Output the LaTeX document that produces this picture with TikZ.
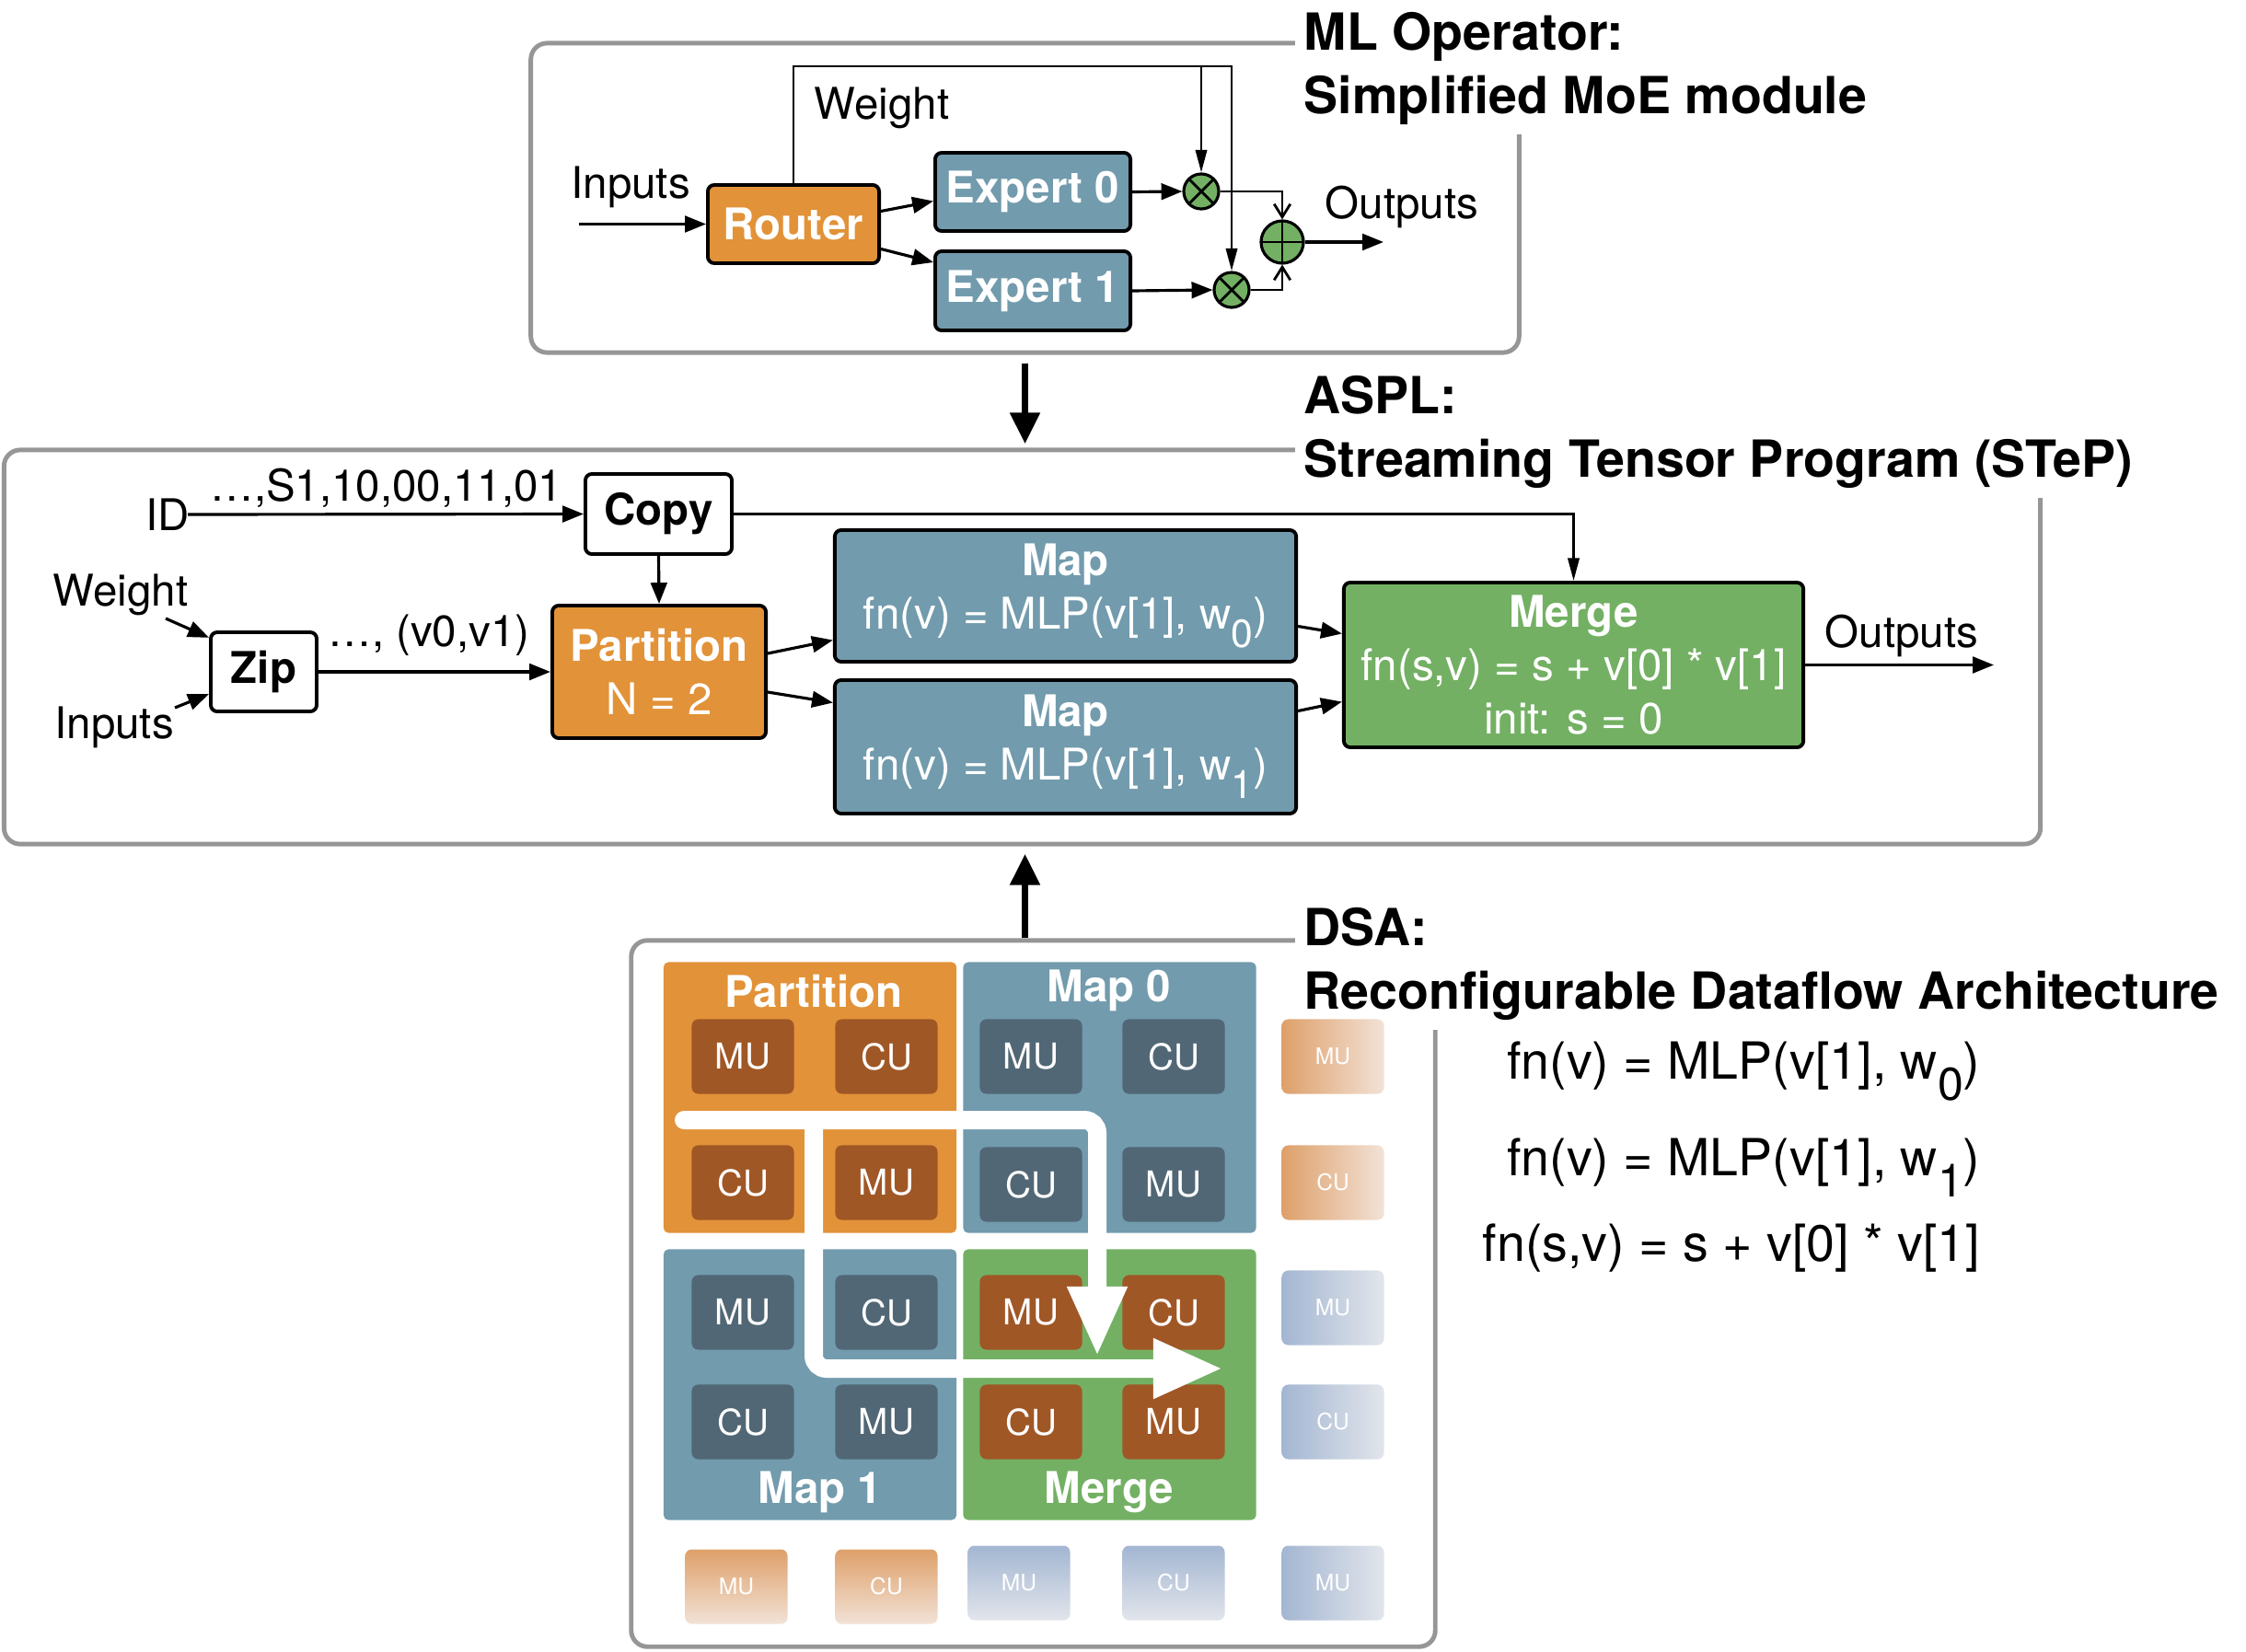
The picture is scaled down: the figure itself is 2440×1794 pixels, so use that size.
\documentclass[tikz,border=0pt]{standalone}
\usepackage{fontspec}
\setmainfont{TeX Gyre Heros}
\usetikzlibrary{arrows.meta,calc}

\definecolor{opOrange}{RGB}{226,146,56}
\definecolor{opBlue}{RGB}{114,155,173}
\definecolor{opGreen}{RGB}{115,176,99}
\definecolor{unitBrown}{RGB}{160,87,38}
\definecolor{unitSlate}{RGB}{81,103,117}
\definecolor{frameGray}{RGB}{150,150,150}
\definecolor{fadeOrange}{RGB}{222,160,106}
\definecolor{fadeOrangeL}{RGB}{242,226,214}
\definecolor{fadeBlue}{RGB}{163,182,210}
\definecolor{fadeBlueL}{RGB}{226,229,235}

\newcommand{\bodysize}{\fontsize{13.5}{16.5}\selectfont}
\newcommand{\titlesize}{\fontsize{15.8}{19.6}\selectfont}
\newcommand{\lsub}[1]{\raisebox{-0.42em}{\scalebox{0.9}{#1}}}

\begin{document}
\begin{tikzpicture}[x=0.01cm, y=-0.01cm,
		grp/.style = {draw=frameGray, line width=1.4pt, rounded corners=5pt, inner sep=0},
		ttl/.style = {fill=white, anchor=north west, align=left, inner sep=0.1cm, font=\titlesize\bfseries},
		lbl/.style = {font=\bodysize, inner sep=0},
		opbox/.style = {draw=black, line width=1.1pt, rounded corners=2pt, text=white, align=center, font=\bodysize, inner sep=0},
		orng/.style = {opbox, fill=opOrange},
		blu/.style = {opbox, fill=opBlue},
		grn/.style = {opbox, fill=opGreen},
		wht/.style = {opbox, fill=white, text=black, font=\bodysize\bfseries},
		otim/.style = {circle, draw, line width=0.9pt, fill=opGreen, minimum size=0.38cm, inner sep=0,
			path picture={\draw[line width=0.8pt] (path picture bounding box.north west) -- (path picture bounding box.south east)
				(path picture bounding box.north east) -- (path picture bounding box.south west);}},
		opl/.style = {circle, draw, line width=0.9pt, fill=opGreen, minimum size=0.46cm, inner sep=0,
			path picture={\draw[line width=0.8pt] (path picture bounding box.north) -- (path picture bounding box.south)
				(path picture bounding box.west) -- (path picture bounding box.east);}},
		reg/.style = {rounded corners=1.5pt, inner sep=0, minimum width=3.18cm, minimum height=2.94cm},
		rlbl/.style = {text=white, font=\bodysize\bfseries, inner sep=0},
		unit/.style = {rounded corners=2pt, minimum width=1.11cm, minimum height=0.81cm, inner sep=0, text=white, font=\fontsize{11}{13}\selectfont},
		ub/.style = {unit, fill=unitBrown},
		us/.style = {unit, fill=unitSlate},
		fade/.style = {unit, font=\fontsize{7}{8}\selectfont},
		fol/.style = {fade, left color=fadeOrange, right color=fadeOrangeL},
		fot/.style = {fade, top color=fadeOrange, bottom color=fadeOrangeL},
		fbl/.style = {fade, left color=fadeBlue, right color=fadeBlueL},
		fbt/.style = {fade, top color=fadeBlue, bottom color=fadeBlueL},
		ar/.style = {-{Triangle[length=6.5pt,width=5pt]}, line width=0.9pt},
		ta/.style = {-{Triangle[length=7pt,width=3.5pt]}, line width=0.8pt},
		tb/.style = {-{Straight Barb[length=4pt,width=5pt]}, line width=0.8pt},
		big/.style = {-{Triangle[length=0.34cm,width=0.31cm]}, line width=2.2pt},
		flow/.style = {-{Triangle[length=0.76cm,width=0.6cm]}, draw=white, line width=0.2cm, rounded corners=4pt, line cap=round}
		]
		\useasboundingbox (0,0) rectangle (2440,1794);

		%Frames
		\node[grp, minimum width=10.73cm, minimum height=3.36cm]	(fOp)	at	(1113.5, 215)	{};
		\node[grp, minimum width=22.11cm, minimum height=4.28cm]	(fAspl)	at	(1110.5, 703)	{};
		\node[grp, minimum width=8.73cm, minimum height=7.67cm]	(fDsa)	at	(1122.5, 1405.5)	{};
		\node[ttl]	(tOp)	at	(1406, 3)	{ML Operator:\\Simplified MoE module};
		\node[ttl]	(tAspl)	at	(1406, 398)	{ASPL:\\Streaming Tensor Program (STeP)};
		\node[ttl]	(tDsa)	at	(1406, 976)	{DSA:\\Reconfigurable Dataflow Architecture};

		%ML operator
		\node[orng, minimum width=1.86cm, minimum height=0.85cm]	(router)	at	(862, 243.5)	{\bfseries Router};
		\node[blu, minimum width=2.12cm, minimum height=0.85cm]	(exp0)	at	(1122, 208.5)	{\bfseries Expert 0};
		\node[blu, minimum width=2.12cm, minimum height=0.86cm]	(exp1)	at	(1122, 316)	{\bfseries Expert 1};
		\node[otim]	(mul0)	at	(1305, 208)	{};
		\node[otim]	(mul1)	at	(1338, 315)	{};
		\node[opl]	(add)	at	(1393, 263)	{};
		\node[lbl]	(lIn)	at	(685, 203)	{Inputs};
		\node[lbl]	(lW)	at	(958, 117)	{Weight};
		\node[lbl]	(lOut)	at	(1523, 225)	{Outputs};
		\coordinate	(inA)	at	(629, 243.5);
		\coordinate	(wt)	at	(1338, 72);
		\coordinate	(outA)	at	(1503, 263);

		\draw[ar]	(inA)	--	(router.west);
		\draw[ar]	($(router.east)+(0,-14)$)	--	($(exp0.west)+(0,10)$);
		\draw[ar]	($(router.east)+(0,27)$)	--	($(exp1.west)+(0,-31)$);
		\draw[ta]	(router.north)	|-	(wt)	--	(mul1.north);
		\draw[ta]	(mul0.north |- wt)	--	(mul0.north);
		\draw[ar]	(exp0.east)	--	(mul0.west);
		\draw[ar]	(exp1.east)	--	(mul1.west);
		\draw[tb]	(mul0.east)	-|	(add.north);
		\draw[tb]	(mul1.east)	-|	(add.south);
		\draw[ar]	(add.east)	--	(outA);

		%ASPL
		\node[wht, minimum width=1.59cm, minimum height=0.87cm]	(copy)	at	(715.5, 558.5)	{Copy};
		\node[wht, minimum width=1.15cm, minimum height=0.86cm]	(zip)	at	(286.5, 730)	{Zip};
		\node[orng, minimum width=2.32cm, minimum height=1.44cm]	(part)	at	(716, 730)	{\textbf{Partition}\\N = 2};
		\node[blu, minimum width=5.01cm, minimum height=1.43cm]	(map0)	at	(1157.5, 647.5)	{\textbf{Map}\\fn(v) = MLP(v[1], w\lsub{0})};
		\node[blu, minimum width=5.01cm, minimum height=1.45cm]	(map1)	at	(1157.5, 811.5)	{\textbf{Map}\\fn(v) = MLP(v[1], w\lsub{1})};
		\node[grn, minimum width=4.99cm, minimum height=1.79cm]	(merge)	at	(1709.5, 722.5)	{\textbf{Merge}\\fn(s,v) = s + v[0] * v[1]\\init: s = 0};
		\node[lbl]	(lId)	at	(182, 559)	{ID};
		\node[lbl]	(lSeq)	at	(420, 530)	{…,S1,10,00,11,01};
		\node[lbl]	(lW2)	at	(131, 646)	{Weight};
		\node[lbl]	(lIn2)	at	(124, 790)	{Inputs};
		\node[lbl]	(lPair)	at	(466, 690)	{…, (v0,v1)};
		\node[lbl]	(lOut2)	at	(2066, 691)	{Outputs};
		\coordinate	(idA)	at	(204, 559);
		\coordinate	(wB)	at	(180, 672);
		\coordinate	(inB)	at	(190, 769);
		\coordinate	(outB)	at	(2166, 722.5);

		\draw[ar]	(idA)	--	(copy.west);
		\draw[ar]	(copy.south)	--	(part.north);
		\draw[ta]	(copy.east)	-|	(merge.north);
		\draw[ar]	(wB)	--	(zip.148);
		\draw[ar]	(inB)	--	(zip.202);
		\draw[ar]	(zip.east)	--	(part.west);
		\draw[ar]	($(part.east)+(0,-20)$)	--	($(map0.west)+(0,48)$);
		\draw[ar]	($(part.east)+(0,22)$)	--	($(map1.west)+(0,-48)$);
		\draw[ar]	($(map0.east)+(0,33)$)	--	($(merge.west)+(0,-34)$);
		\draw[ar]	($(map1.east)+(0,-39)$)	--	($(merge.west)+(0,40)$);
		\draw[ar]	(merge.east)	--	(outB);

		%Between levels
		\draw[big, shorten <=0.09cm, shorten >=0.04cm]	(fOp.south)	--	(fOp.south |- fAspl.north);
		\draw[big, shorten >=0.08cm]	(fDsa.north -| fOp.south)	--	(fOp.south |- fAspl.south);

		%DSA regions
		\node[reg, fill=opOrange]	(rPart)	at	(880, 1192.5)	{};
		\node[reg, fill=opBlue]	(rMap0)	at	(1205.5, 1192.5)	{};
		\node[reg, fill=opBlue]	(rMap1)	at	(880, 1504.5)	{};
		\node[reg, fill=opGreen]	(rMerge)	at	(1205.5, 1504.5)	{};
		\node[rlbl]	at	(884, 1077)	{Partition};
		\node[rlbl]	at	(1205, 1076)	{Map 0};
		\node[rlbl]	at	(891, 1621)	{Map 1};
		\node[rlbl]	at	(1205, 1621)	{Merge};

		%Units
		\node[ub]	(u11)	at	(807, 1148)	{MU};
		\node[ub]	(u12)	at	(963, 1148)	{CU};
		\node[us]	(u13)	at	(1120, 1148)	{MU};
		\node[us]	(u14)	at	(1275, 1148)	{CU};
		\node[ub]	(u21)	at	(807, 1285)	{CU};
		\node[ub]	(u22)	at	(963, 1285)	{MU};
		\node[us]	(u23)	at	(1120, 1287)	{CU};
		\node[us]	(u24)	at	(1275, 1287)	{MU};
		\node[us]	(u31)	at	(807, 1426)	{MU};
		\node[us]	(u32)	at	(963, 1426)	{CU};
		\node[ub]	(u33)	at	(1120, 1426)	{MU};
		\node[ub]	(u34)	at	(1275, 1426)	{CU};
		\node[us]	(u41)	at	(807, 1545)	{CU};
		\node[us]	(u42)	at	(963, 1545)	{MU};
		\node[ub]	(u43)	at	(1120, 1545)	{CU};
		\node[ub]	(u44)	at	(1275, 1545)	{MU};

		%Unused units
		\node[fol]	(v1)	at	(1448, 1148)	{MU};
		\node[fol]	(v2)	at	(1448, 1285)	{CU};
		\node[fbl]	(v3)	at	(1448, 1421)	{MU};
		\node[fbl]	(v4)	at	(1448, 1545)	{CU};
		\node[fot]	(v5)	at	(800, 1724)	{MU};
		\node[fot]	(v6)	at	(963, 1724)	{CU};
		\node[fbt]	(v7)	at	(1107, 1720)	{MU};
		\node[fbt]	(v8)	at	(1275, 1720)	{CU};
		\node[fbl]	(v9)	at	(1448, 1720)	{MU};

		%Dataflow
		\coordinate	(flowA)	at	(743, 1217);
		\coordinate	(flowB)	at	(1192, 1474);
		\coordinate	(flowC)	at	(884, 1217);
		\coordinate	(flowD)	at	(1329, 1487);
		\draw[flow]	(flowA)	-|	(flowB);
		\draw[flow]	(flowC)	|-	(flowD);

		%Functions
		\node[lbl, font=\titlesize, anchor=base east]	(fn0)	at	(2152, 1172)	{fn(v) = MLP(v[1], w\lsub{0})};
		\node[lbl, font=\titlesize, anchor=base east]	(fn1)	at	(2152, 1277)	{fn(v) = MLP(v[1], w\lsub{1})};
		\node[lbl, font=\titlesize, anchor=base east]	(fn2)	at	(2152, 1370)	{fn(s,v) = s + v[0] * v[1]};
	\end{tikzpicture}
\end{document}
